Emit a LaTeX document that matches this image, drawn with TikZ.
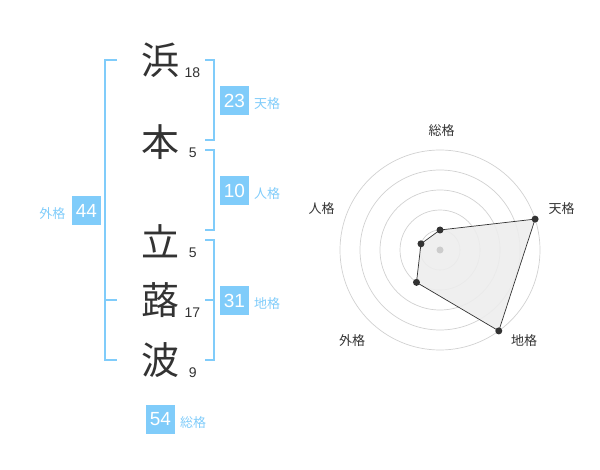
\documentclass[tikz,border=0pt]{standalone}
\usepackage{fontspec}
\setmainfont{Liberation Sans}
\newfontfamily\jp{Noto Sans CJK JP}
\definecolor{kblue}{RGB}{128,204,250}
\definecolor{ink}{RGB}{51,51,51}
\begin{document}
\begin{tikzpicture}[x=1pt,y=-1pt,
 kanji/.style={font=\jp\fontsize{38}{38}\selectfont, text=ink, inner sep=0},
 strokes/.style={font=\fontsize{14}{14}\selectfont, text=ink, inner sep=0},
 valbox/.style={fill=kblue, text=white, font=\fontsize{19}{19}\selectfont, minimum width=29pt, minimum height=29pt, inner sep=0},
 kaku/.style={font=\jp\fontsize{13}{13}\selectfont, text=kblue, inner sep=0},
 brk/.style={draw=kblue, line width=2pt},
 ring/.style={draw=black!18, line width=0.7pt},
 rlabel/.style={font=\jp\fontsize{13}{13}\selectfont, text=ink, inner sep=0},
 dot/.style={circle, fill=ink, minimum size=7pt, inner sep=0}
]
\useasboundingbox (0,0) rectangle (600,470);
% kanji
\node[kanji] (k1) at (160,60) {浜};
\node[kanji] (k2) at (160,142) {本};
\node[kanji] (k3) at (160,241) {立};
\node[kanji] (k4) at (160,300) {蕗};
\node[kanji] (k5) at (160,360) {波};
% stroke counts
\node[strokes] (s1) at (192.5,72.5) {18};
\node[strokes] (s2) at (192.7,152.7) {5};
\node[strokes] (s3) at (192.7,252.3) {5};
\node[strokes] (s4) at (192.5,312.7) {17};
\node[strokes] (s5) at (192.7,372.3) {9};
% brackets
\draw[brk] (117,60) -- (105,60) -- (105,360) -- (117,360);
\draw[brk] (105,300) -- (117,300);
\draw[brk] (205,60) -- (214,60) -- (214,140) -- (205,140);
\draw[brk] (205,150) -- (214,150) -- (214,230) -- (205,230);
\draw[brk] (205,240) -- (214,240) -- (214,360) -- (205,360);
\draw[brk] (205,300) -- (214,300);
% value boxes
\node[valbox] (b23) at (234.5,100.5) {23};
\node[valbox] (b10) at (234.5,190.5) {10};
\node[valbox] (b31) at (234.5,300.5) {31};
\node[valbox] (b44) at (86.5,210.5) {44};
\node[valbox] (b54) at (160.5,419) {54};
\node[kaku, anchor=west] (l23) at (254,103.5) {天格};
\node[kaku, anchor=west] (l10) at (254,193.5) {人格};
\node[kaku, anchor=west] (l31) at (254,303.5) {地格};
\node[kaku, anchor=east] (l44) at (65.5,213.5) {外格};
\node[kaku, anchor=west] (l54) at (180,422.5) {総格};
% radar
\begin{scope}[shift={(440,250)}, yscale=-1]
  \foreach \r in {20,40,60,80,100} \draw[ring] (0,0) circle[radius=\r];
  \coordinate (pso) at (90:20);
  \coordinate (pte) at (18:100);
  \coordinate (pch) at (-54:100);
  \coordinate (pga) at (-126:40);
  \coordinate (pji) at (162:20);
  \filldraw[fill=black!7, fill opacity=0.9, draw=ink, line width=0.7pt]
    (pso) -- (pte) -- (pch) -- (pga) -- (pji) -- cycle;
  \node[circle, fill=black!20, minimum size=7pt, inner sep=0] (ctr) at (0,0) {};
  \node[dot] (dso) at (pso) {};
  \node[dot] (dte) at (pte) {};
  \node[dot] (dch) at (pch) {};
  \node[dot] (dga) at (pga) {};
  \node[dot] (dji) at (pji) {};
\end{scope}
\node[rlabel] (rso) at (441.5,130.5) {総格};
\node[rlabel] (rte) at (561.5,208.5) {天格};
\node[rlabel] (rch) at (524,341) {地格};
\node[rlabel] (rga) at (352,341) {外格};
\node[rlabel] (rji) at (321.5,208.5) {人格};
\end{tikzpicture}
\end{document}
